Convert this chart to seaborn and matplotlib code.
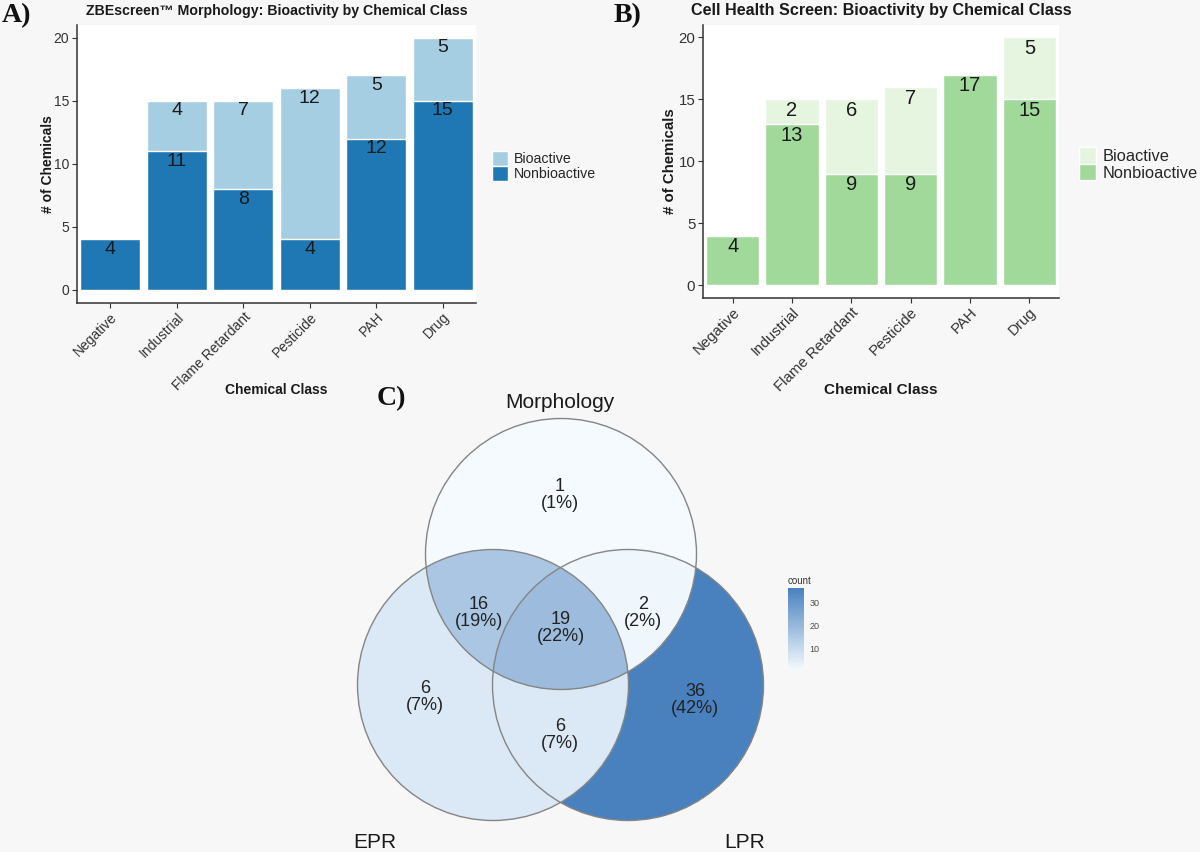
import numpy as np
import pandas as pd
import matplotlib
matplotlib.use("Agg")
import matplotlib.pyplot as plt
import seaborn as sns
from matplotlib.patches import Patch, Circle
from matplotlib.colors import LinearSegmentedColormap

# ---------------- data ----------------
classes = ["Negative", "Industrial", "Flame Retardant", "Pesticide", "PAH", "Drug"]
morph_bioactive = [0, 4, 7, 12, 5, 5]
morph_nonbioactive = [4, 11, 8, 4, 12, 15]
cell_bioactive = [0, 2, 6, 7, 0, 5]
cell_nonbioactive = [4, 13, 9, 9, 17, 15]
yticks = [0, 5, 10, 15, 20]
status_labels = ["Bioactive", "Nonbioactive"]

venn_sets = ["Morphology", "EPR", "LPR"]
venn_regions = ["Morphology", "EPR", "LPR", "Morphology&EPR", "Morphology&LPR",
                "EPR&LPR", "Morphology&EPR&LPR"]
venn_counts = [1, 6, 36, 16, 2, 6, 19]
colorbar_ticks = [10, 20, 30]

# ---------------- style ----------------
sns.set_style("ticks")
plt.rcParams["font.family"] = ["Liberation Sans", "DejaVu Sans"]
BG = "#f7f7f7"
TXT = "#1a1a1a"
AX = "#333333"

fig = plt.figure(figsize=(12, 8.52), dpi=100, facecolor=BG)


def px_axes(left, top, right, bottom):
    return fig.add_axes([left / 1200, 1 - bottom / 852,
                         (right - left) / 1200, (bottom - top) / 852])


def bar_panel(ax, bio, non, light, dark, title, ylab_x, fs):
    df = pd.DataFrame({"cls": classes, "total": np.add(bio, non),
                       "non": non, "bio": bio})
    sns.barplot(data=df, x="cls", y="total", order=classes, color=light,
                saturation=1, width=0.9, errorbar=None, ax=ax)
    sns.barplot(data=df, x="cls", y="non", order=classes, color=dark,
                saturation=1, width=0.9, errorbar=None, ax=ax)
    for i, (b, n) in enumerate(zip(bio, non)):
        if b > 0:
            ax.annotate(str(b), (i, b + n), xytext=(0, -1.2), textcoords="offset points",
                        ha="center", va="top", fontsize=fs["bar"], color=TXT)
        if n > 0:
            ax.annotate(str(n), (i, n), xytext=(0, -1.2), textcoords="offset points",
                        ha="center", va="top", fontsize=fs["bar"], color=TXT)
    ax.set_facecolor("white")
    ax.set_xlim(-0.5, 5.5)
    ax.set_ylim(-1, 21)
    ax.set_yticks(yticks)
    ax.set_yticklabels([str(t) for t in yticks], fontsize=fs["tick"], color=AX)
    ax.set_xticks(range(len(classes)))
    ax.set_xticklabels(classes, rotation=45, ha="right", rotation_mode="anchor",
                       fontsize=fs["tick"], color=AX)
    ax.tick_params(axis="both", length=3.5, width=0.8, color=AX, pad=2)
    for s in ["top", "right"]:
        ax.spines[s].set_visible(False)
    for s in ["left", "bottom"]:
        ax.spines[s].set_color(AX)
        ax.spines[s].set_linewidth(1.1)
    ax.set_xlabel("")
    ax.set_ylabel("# of Chemicals", fontsize=fs["lab"], fontweight="bold", color=TXT)
    ax.yaxis.set_label_coords(ylab_x, 0.5)
    ax.set_title(title, fontsize=fs["title"], fontweight="bold", color=TXT, pad=7)


# ---------------- panel A ----------------
fsA = {"bar": 14, "tick": 10, "lab": 10, "title": 10.2}
axA = px_axes(77, 25, 476, 302.5)
bar_panel(axA, morph_bioactive, morph_nonbioactive, "#a6cee3", "#1f78b4",
          "ZBEscreen\u2122 Morphology: Bioactivity by Chemical Class", -0.055, fsA)
fig.text(276 / 1200, 1 - 390 / 852, "Chemical Class", ha="center", va="center",
         fontsize=10, fontweight="bold", color=TXT)
fig.legend([Patch(facecolor="#a6cee3"), Patch(facecolor="#1f78b4")], status_labels,
           loc="center left", bbox_to_anchor=(485 / 1200, 1 - 166 / 852),
           frameon=False, fontsize=10.2, handlelength=1.1, handleheight=1.25,
           labelspacing=0.0, handletextpad=0.45, borderpad=0)

# ---------------- panel B ----------------
fsB = {"bar": 14.5, "tick": 10.8, "lab": 10.8, "title": 11.6}
axB = px_axes(703, 25, 1059, 297.5)
bar_panel(axB, cell_bioactive, cell_nonbioactive, "#e5f5e0", "#a1d99b",
          "Cell Health Screen: Bioactivity by Chemical Class", -0.073, fsB)
fig.text(881 / 1200, 1 - 390 / 852, "Chemical Class", ha="center", va="center",
         fontsize=11, fontweight="bold", color=TXT)
fig.legend([Patch(facecolor="#e5f5e0"), Patch(facecolor="#a1d99b")], status_labels,
           loc="center left", bbox_to_anchor=(1071 / 1200, 1 - 164 / 852),
           frameon=False, fontsize=11.8, handlelength=1.0, handleheight=1.15,
           labelspacing=0.0, handletextpad=0.4, borderpad=0)

# ---------------- panel C (Venn) ----------------
axC = px_axes(300, 372, 820, 852)
axC.set_xlim(300, 820)
axC.set_ylim(852, 372)
axC.axis("off")
axC.patch.set_alpha(0)

R = 135.5
centers = {"Morphology": (561, 554), "EPR": (493, 685), "LPR": (628, 685)}
step = 0.4
xs = np.arange(340, 780, step)
ys = np.arange(400, 840, step)
X, Y = np.meshgrid(xs, ys)
member = {k: (X - c[0]) ** 2 + (Y - c[1]) ** 2 <= R ** 2 for k, c in centers.items()}
grid = np.full(X.shape, np.nan)
for name, cnt in zip(venn_regions, venn_counts):
    parts = name.split("&")
    m = np.ones(X.shape, dtype=bool)
    for s in venn_sets:
        m &= member[s] if s in parts else ~member[s]
    grid[m] = cnt

cmap = LinearSegmentedColormap.from_list("venn", ["#F4FAFE", "#4981BF"])
im = axC.imshow(grid, extent=(xs[0], xs[-1] + step, ys[-1] + step, ys[0]),
                origin="upper", cmap=cmap, vmin=min(venn_counts), vmax=max(venn_counts),
                interpolation="nearest", zorder=1)
for k, c in centers.items():
    axC.add_patch(Circle(c, R, fill=False, ec="#858585", lw=1.0, zorder=2))

total = sum(venn_counts)
label_pos = {"Morphology": (560, 495), "EPR": (425, 697), "LPR": (695, 700),
             "Morphology&EPR": (479, 613), "Morphology&LPR": (643, 613),
             "EPR&LPR": (560, 735), "Morphology&EPR&LPR": (561, 628)}
for name, cnt in zip(venn_regions, venn_counts):
    x, y = label_pos[name]
    axC.text(x, y, f"{cnt}\n({round(100 * cnt / total)}%)", ha="center", va="center",
             fontsize=13, color="#222222", linespacing=0.98, zorder=3)

set_pos = {"Morphology": (560, 403), "EPR": (375, 842), "LPR": (745, 842)}
for s in venn_sets:
    axC.text(*set_pos[s], s, ha="center", va="center", fontsize=15, color=TXT, zorder=3)

cax = px_axes(788, 588, 804, 670)
cb = fig.colorbar(im, cax=cax, ticks=colorbar_ticks)
cb.outline.set_visible(False)
cax.tick_params(axis="y", direction="in", length=3, width=0.8, color="white",
                left=True, right=True, labelsize=6.5, labelcolor="#4d4d4d", pad=4)
cax.set_title("count", fontsize=7, loc="left", pad=3, color="#333333")

# ---------------- panel letters ----------------
for x, y, t in [(16, 16, "A)"), (628, 16, "B)"), (391, 399, "C)")]:
    fig.text(x / 1200, 1 - y / 852, t, ha="center", va="center", fontsize=20,
             fontweight="bold", family=["Liberation Serif", "DejaVu Serif"], color="#111111")

fig.savefig("out.png", dpi=100, facecolor=BG)
